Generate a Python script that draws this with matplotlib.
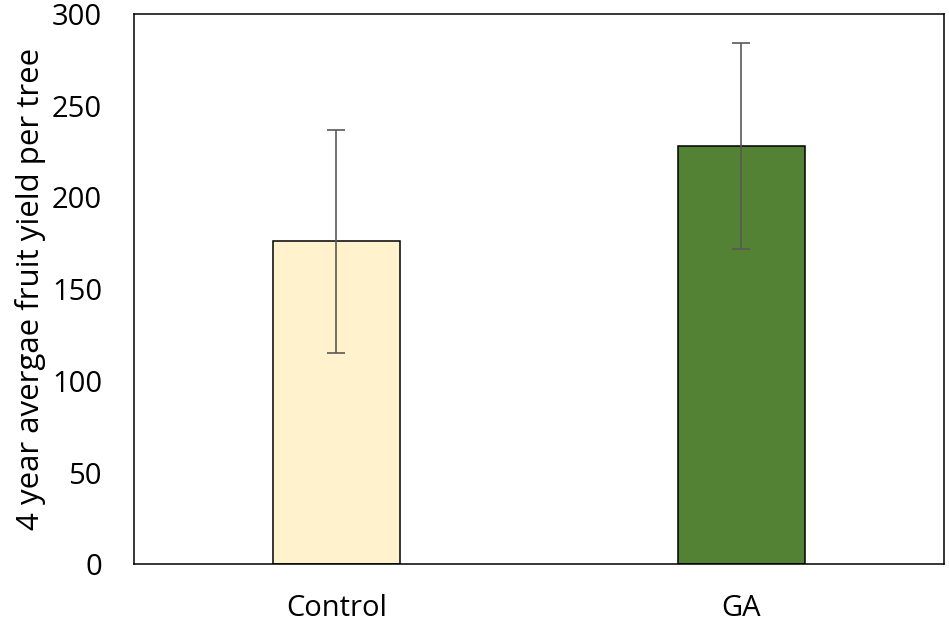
import matplotlib.pyplot as plt

# Data
categories = ['Control', 'GA']
yields = [176, 228]
errors = [61, 56]
colors = ['#FFF2CC', '#548235']

plt.rcParams['font.family'] = ['Open Sans', 'DejaVu Sans']

fig = plt.figure(figsize=(9.49, 6.26), dpi=100)
ax = fig.add_axes([0.1412, 0.0985, 0.8535, 0.8791])

x = range(len(categories))
ax.bar(x, yields, width=0.315, color=colors, edgecolor='black', linewidth=1.1,
       zorder=2)
ax.errorbar(x, yields, yerr=errors, fmt='none', ecolor='#595959',
            elinewidth=1.2, capsize=6.5, capthick=1.2, zorder=3)

ax.set_xlim(-0.5, 1.5)
ax.set_ylim(0, 300)
ax.set_yticks(range(0, 301, 50))
ax.set_xticks(list(x))
ax.set_xticklabels(categories)
ax.tick_params(axis='both', length=0, labelsize=21)
ax.tick_params(axis='y', pad=23)
ax.tick_params(axis='x', pad=21)
ax.set_ylabel('4 year avergae fruit yield per tree', fontsize=22.5, labelpad=4)

for s in ax.spines.values():
    s.set_linewidth(1.1)
    s.set_color('black')

fig.savefig('out.png', dpi=100)
